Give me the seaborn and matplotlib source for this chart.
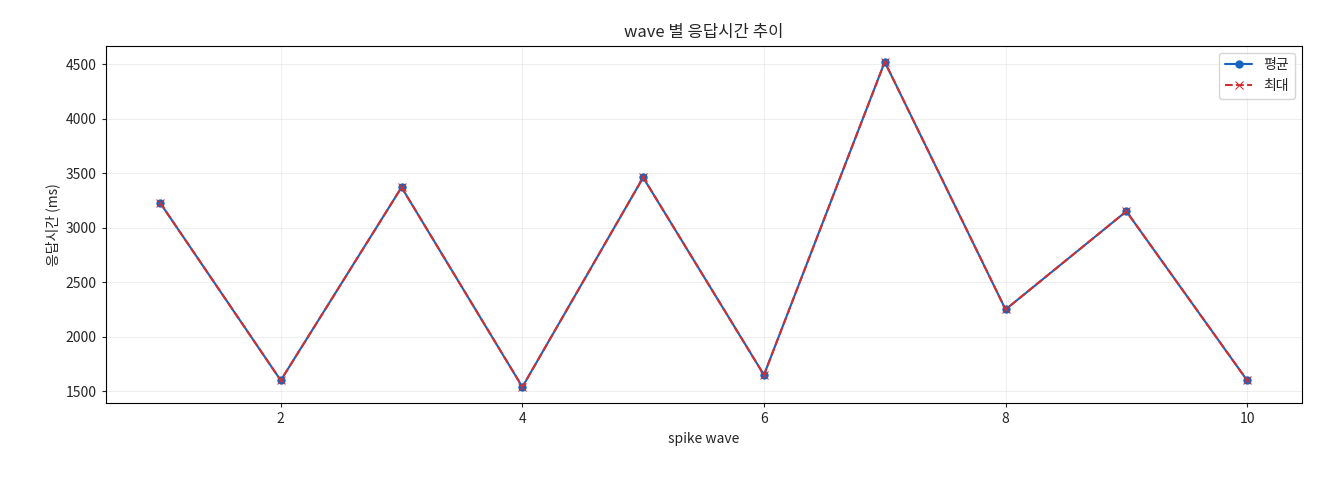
import matplotlib
matplotlib.use("Agg")
import matplotlib.pyplot as plt
import seaborn as sns
import pandas as pd

sns.set_style("white")
plt.rcParams['font.family'] = ['Noto Sans CJK KR', 'DejaVu Sans']
plt.rcParams['axes.unicode_minus'] = False

waves = [1, 2, 3, 4, 5, 6, 7, 8, 9, 10]
avg_ms = [3230, 1600, 3370, 1540, 3460, 1650, 4520, 2250, 3150, 1600]
max_ms = [3230, 1600, 3370, 1540, 3460, 1650, 4520, 2250, 3150, 1600]

df = pd.DataFrame({"wave": waves, "avg": avg_ms, "max": max_ms})

fig, ax = plt.subplots(figsize=(13.2, 4.8), dpi=100)
sns.lineplot(data=df, x="wave", y="avg", ax=ax, color="#1565c0", marker="o",
             markersize=6, markeredgewidth=0, label="평균")
sns.lineplot(data=df, x="wave", y="max", ax=ax, color="#d32f2f", marker="x",
             markersize=6, linestyle="--", markeredgecolor="#d32f2f", label="최대")

ax.set_title("wave 별 응답시간 추이")
ax.set_xlabel("spike wave")
ax.set_ylabel("응답시간 (ms)")
ax.grid(True, alpha=0.3)
for s in ax.spines.values():
    s.set_color("black")
ax.tick_params(left=True, bottom=True, length=3)
ax.legend(loc="upper right")
fig.subplots_adjust(left=0.08, right=0.986, top=0.905, bottom=0.16)
fig.savefig("out.png", dpi=100)
